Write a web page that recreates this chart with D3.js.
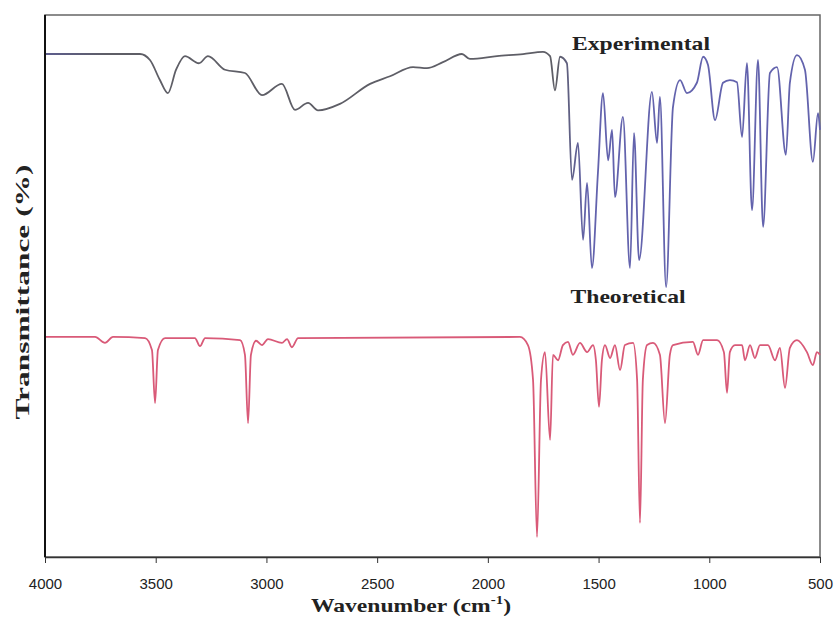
<!DOCTYPE html>
<html>
<head>
<meta charset="utf-8">
<script src="https://cdn.jsdelivr.net/npm/d3@7"></script>
<style>
  body { margin: 0; background: #fff; }
</style>
</head>
<body>
<div id="chart"></div>
<script>
var svgwidth = 836;
var svgheight = 636;

// x ticks (wavenumber, cm-1)
var xTicks = [4000, 3500, 3000, 2500, 2000, 1500, 1000, 500];

// Experimental spectrum: wavenumber and transmittance (arbitrary %)
var expWave = [4000, 3571, 3526, 3481, 3445, 3408, 3368, 3305, 3264, 3187, 3097, 3020, 2930, 2871, 2812, 2767,
               2668, 2532, 2442, 2338, 2275, 2203, 2117, 2081, 1959, 1841, 1751, 1719, 1697, 1674, 1643, 1620,
               1593, 1570, 1552, 1530, 1503, 1480, 1457, 1439, 1426, 1390, 1358, 1340, 1317, 1259, 1236, 1223,
               1195, 1164, 1132, 1101, 1056, 1028, 1006, 974, 938, 907, 875, 852, 830, 807, 780, 757,
               726, 694, 654, 636, 604, 568, 532, 509, 500];
var expT = [92.8, 92.8, 91.7, 88.0, 85.6, 89.9, 92.4, 91.1, 92.4, 89.9, 89.3, 85.2, 87.3, 82.5, 83.8, 82.4,
            83.6, 87.3, 88.7, 90.4, 90.2, 91.3, 92.8, 91.9, 92.4, 92.8, 93.2, 92.4, 86.1, 92.3, 91.1, 69.6,
            76.4, 58.5, 69.0, 53.3, 70.8, 85.6, 73.2, 78.8, 66.4, 81.2, 53.3, 78.2, 54.8, 85.8, 76.4, 84.9,
            49.8, 83.0, 88.0, 85.6, 87.5, 92.3, 90.8, 80.6, 87.5, 88.0, 87.6, 77.5, 91.1, 64.0, 91.7, 60.9,
            89.3, 90.4, 74.2, 87.5, 92.6, 89.9, 72.9, 81.9, 78.8];

// Theoretical spectrum
var theoWave = [4000, 3774, 3729, 3693, 3548, 3517, 3503, 3490, 3458, 3323, 3300, 3277, 3119, 3097, 3083, 3070,
                3047, 3020, 2993, 2930, 2907, 2885, 2857, 1855, 1819, 1796, 1778, 1760, 1742, 1719, 1706, 1683,
                1661, 1638, 1616, 1584, 1552, 1525, 1512, 1498, 1485, 1471, 1448, 1426, 1403, 1381, 1344, 1326,
                1313, 1300, 1281, 1254, 1223, 1200, 1178, 1164, 1074, 1051, 1028, 965, 934, 920, 907, 884,
                852, 839, 816, 794, 771, 735, 703, 681, 658, 636, 604, 559, 532, 514, 500];
var theoT = [40.6, 40.6, 39.5, 40.6, 40.4, 38.2, 28.4, 38.2, 40.4, 40.4, 38.9, 40.4, 40.0, 37.3, 24.7, 37.3,
             39.9, 39.1, 40.2, 39.5, 40.2, 38.7, 40.4, 40.6, 39.1, 32.7, 3.7, 32.7, 37.8, 21.6, 37.3, 36.3,
             39.1, 39.7, 37.3, 39.5, 37.8, 39.1, 36.3, 27.7, 36.3, 39.1, 36.7, 39.1, 34.5, 39.1, 39.5, 32.7,
             6.3, 32.7, 39.1, 39.5, 37.3, 24.7, 37.3, 39.1, 39.7, 37.3, 40.0, 40.0, 37.8, 30.3, 37.8, 39.1,
             39.1, 36.3, 39.1, 36.7, 39.1, 39.1, 36.3, 38.6, 31.2, 38.6, 40.0, 37.8, 35.4, 37.8, 37.3];

var expData = expWave.map(function(w, i) { return {w: w, t: expT[i]}; });
var theoData = theoWave.map(function(w, i) { return {w: w, t: theoT[i]}; });

var plotLeft = 45, plotRight = 820, plotTop = 15, plotBottom = 557;

var svg = d3.select("#chart")
            .append('svg')
            .attr('width', svgwidth)
            .attr('height', svgheight);

var xscale = d3.scaleLinear()
                .domain([4000, 500])
                .range([plotLeft, plotRight]);

var yscale = d3.scaleLinear()
                .domain([0, 100])
                .range([plotBottom, plotTop]);

// grey in the high-wavenumber part, blue in the fingerprint region
var grad = svg.append("defs").append("linearGradient")
    .attr("id", "expGrad")
    .attr("gradientUnits", "userSpaceOnUse")
    .attr("x1", xscale(4000)).attr("x2", xscale(500))
    .attr("y1", 0).attr("y2", 0);
grad.append("stop").attr("offset", 0).attr("stop-color", "#5d5d8e");
grad.append("stop").attr("offset", 0.08).attr("stop-color", "#5e5e66");
grad.append("stop").attr("offset", 0.66).attr("stop-color", "#5e5e66");
grad.append("stop").attr("offset", 0.70).attr("stop-color", "#6363ad");
grad.append("stop").attr("offset", 1).attr("stop-color", "#6363ad");

// frame
svg.append("rect")
    .attr("x", plotLeft)
    .attr("y", plotTop)
    .attr("width", plotRight - plotLeft)
    .attr("height", plotBottom - plotTop)
    .attr("fill", "none")
    .attr("stroke", "#666")
    .attr("stroke-width", 1.5);

var line = d3.line()
    .curve(d3.curveMonotoneX)
    .x(d => xscale(d.w))
    .y(d => yscale(d.t));

svg.append("path")
    .datum(expData)
    .attr("d", line)
    .attr("fill", "none")
    .attr("stroke", "url(#expGrad)")
    .attr("stroke-width", 1.8)
    .attr("stroke-linejoin", "round");

svg.append("path")
    .datum(theoData)
    .attr("d", line)
    .attr("fill", "none")
    .attr("stroke", "#d95a78")
    .attr("stroke-width", 1.8)
    .attr("stroke-linejoin", "round");

// bottom axis
var xaxis = d3.axisBottom(xscale)
    .tickValues(xTicks)
    .tickSize(6)
    .tickSizeOuter(0)
    .tickFormat(d3.format("d"));

var gx = svg.append("g")
    .attr("transform", "translate(0," + plotBottom + ")")
    .call(xaxis);
gx.select(".domain").attr("stroke", "#333").attr("stroke-width", 1.5);
gx.selectAll(".tick line").attr("stroke", "#333");
gx.selectAll(".tick text")
    .attr("dy", "1.5em")
    .style("font-family", "Liberation Sans Narrow, Liberation Sans, sans-serif")
    .style("font-size", "15px")
    .style("fill", "#222");

// left axis line
svg.append("line")
    .attr("x1", plotLeft).attr("x2", plotLeft)
    .attr("y1", plotTop).attr("y2", plotBottom)
    .attr("stroke", "#111")
    .attr("stroke-width", 2);

// labels
function label(x, y, len, txt) {
    return svg.append("text")
        .attr("x", x).attr("y", y)
        .attr("textLength", len)
        .attr("lengthAdjust", "spacingAndGlyphs")
        .style("text-anchor", "middle")
        .style("font-family", "Liberation Serif")
        .style("font-weight", "bold")
        .style("font-size", "19px")
        .style("fill", "#222")
        .text(txt);
}

label(641, 50, 138, "Experimental");
label(628, 303, 115, "Theoretical");

svg.append("text")
    .attr("x", 411)
    .attr("y", 612)
    .style("text-anchor", "middle")
    .style("font-family", "Liberation Serif")
    .style("font-weight", "bold")
    .style("font-size", "19px")
    .style("fill", "#222")
    .attr("textLength", 200)
    .attr("lengthAdjust", "spacingAndGlyphs")
    .html("Wavenumber (cm<tspan dy='-8' font-size='12px'>-1</tspan><tspan dy='8'>)</tspan>");

svg.append("text")
    .attr("transform", "rotate(-90)")
    .attr("x", -292)
    .attr("y", 29)
    .attr("textLength", 255)
    .attr("lengthAdjust", "spacingAndGlyphs")
    .style("text-anchor", "middle")
    .style("font-family", "Liberation Serif")
    .style("font-weight", "bold")
    .style("font-size", "19px")
    .style("fill", "#222")
    .text("Transmittance (%)");
</script>
</body>
</html>
